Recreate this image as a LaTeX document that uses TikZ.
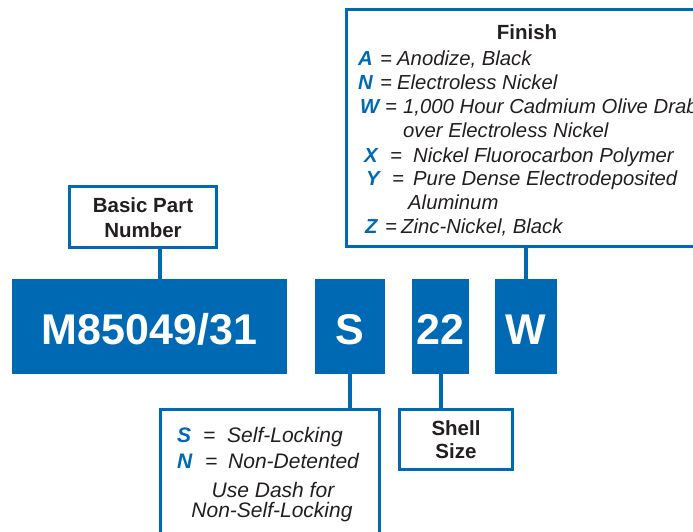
\documentclass[tikz,border=0pt]{standalone}
\usepackage{fontspec}
\setmainfont{Liberation Sans}
\definecolor{myblue}{HTML}{0069B4}
\definecolor{txt}{HTML}{231F20}
\tikzset{
  bluebox/.style={fill=myblue, draw=none, inner sep=0pt, outer sep=0pt},
  wbox/.style={draw=myblue, line width=3pt, fill=white, inner sep=0pt},
  conn/.style={draw=myblue, line width=4pt},
  big/.style={text=white, font=\fontsize{43}{43}\selectfont\bfseries, inner sep=0pt, anchor=base},
  lbl/.style={font=\fontsize{20.5}{24}\selectfont\bfseries, text=txt, inner sep=0pt, anchor=base},
  itm/.style={font=\fontsize{20.3}{24}\selectfont\itshape, text=txt, inner sep=0pt, anchor=base west},
  itc/.style={font=\fontsize{21}{24}\selectfont\itshape, text=txt, inner sep=0pt, anchor=base},
}
\newcommand{\bl}[1]{\textcolor{myblue}{\bfseries\itshape #1}}
\begin{document}
\begin{tikzpicture}[x=1pt,y=-1pt]
\useasboundingbox (0,0) rectangle (693,531);
\clip (0,0) rectangle (693,531);
% blue code boxes
\node[bluebox, minimum width=275pt, minimum height=95pt] (m) at (149.5,326.5) {};
\node[bluebox, minimum width=70pt, minimum height=95pt] (s) at (350,326.5) {};
\node[bluebox, minimum width=57pt, minimum height=95pt] (n22) at (440.5,326.5) {};
\node[bluebox, minimum width=62pt, minimum height=95pt] (w) at (526,326.5) {};
\node[big] (mt) at (149.5,344) {M85049/31};
\node[big] (st) at (350,344) {S};
\node[big] (nt) at (440.5,344) {22};
\node[big] (wt) at (526,344) {W};
% white label boxes
\node[wbox, minimum width=147pt, minimum height=61pt] (basic) at (143,217) {};
\node[wbox, minimum width=373.5pt, minimum height=237pt] (finish) at (533.25,128) {};
\node[wbox, minimum width=219pt, minimum height=150.5pt] (lock) at (270,484.75) {};
\node[wbox, minimum width=113pt, minimum height=60pt] (shell) at (456,439.5) {};
% connectors
\draw[conn] ([xshift=17pt]basic.south) -- ([xshift=17pt]basic.south |- m.north);
\draw[conn] (w.north) -- (w.north |- finish.south);
\draw[conn] (s.south) -- (s.south |- lock.north);
\draw[conn] (n22.south) -- (n22.south |- shell.north);
% basic part number
\node[lbl] (b1) at (143,212) {Basic Part};
\node[lbl] (b2) at (143,237) {Number};
% shell size
\node[lbl] (sh1) at (456,435) {Shell};
\node[lbl] (sh2) at (456,458) {Size};
% finish
\node[lbl] (ft) at (527,39) {Finish};
\node[itm] (fa) at (358,65) {\makebox[22pt][l]{\bl{A}}\makebox[17pt][l]{=}Anodize, Black};
\node[itm] (fn) at (358,89) {\makebox[22pt][l]{\bl{N}}\makebox[17pt][l]{=}Electroless Nickel};
\node[itm] (fw) at (360,113) {\makebox[25pt][l]{\bl{W}}\makebox[18pt][l]{=}1,000 Hour Cadmium Olive Drab};
\node[itm] (fw2) at (403,137) {over Electroless Nickel};
\node[itm] (fx) at (364,162) {\makebox[26pt][l]{\bl{X}}\makebox[23pt][l]{=}Nickel Fluorocarbon Polymer};
\node[itm] (fy) at (366,185) {\makebox[26pt][l]{\bl{Y}}\makebox[21pt][l]{=}Pure Dense Electrodeposited};
\node[itm] (fy2) at (408,209) {Aluminum};
\node[itm] (fz) at (365,233) {\makebox[20pt][l]{\bl{Z}}\makebox[16pt][l]{=}Zinc-Nickel, Black};
% locking
\node[itm, font=\fontsize{21}{24}\selectfont\itshape] (ls) at (177,442) {\makebox[26pt][l]{\bl{S}}\makebox[24pt][l]{=}Self-Locking};
\node[itm, font=\fontsize{21}{24}\selectfont\itshape] (ln) at (177,468) {\makebox[28pt][l]{\bl{N}}\makebox[23pt][l]{=}Non-Detented};
\node[itc] (lu) at (273,497) {Use Dash for};
\node[itc] (lu2) at (272,517) {Non-Self-Locking};
\end{tikzpicture}
\end{document}
